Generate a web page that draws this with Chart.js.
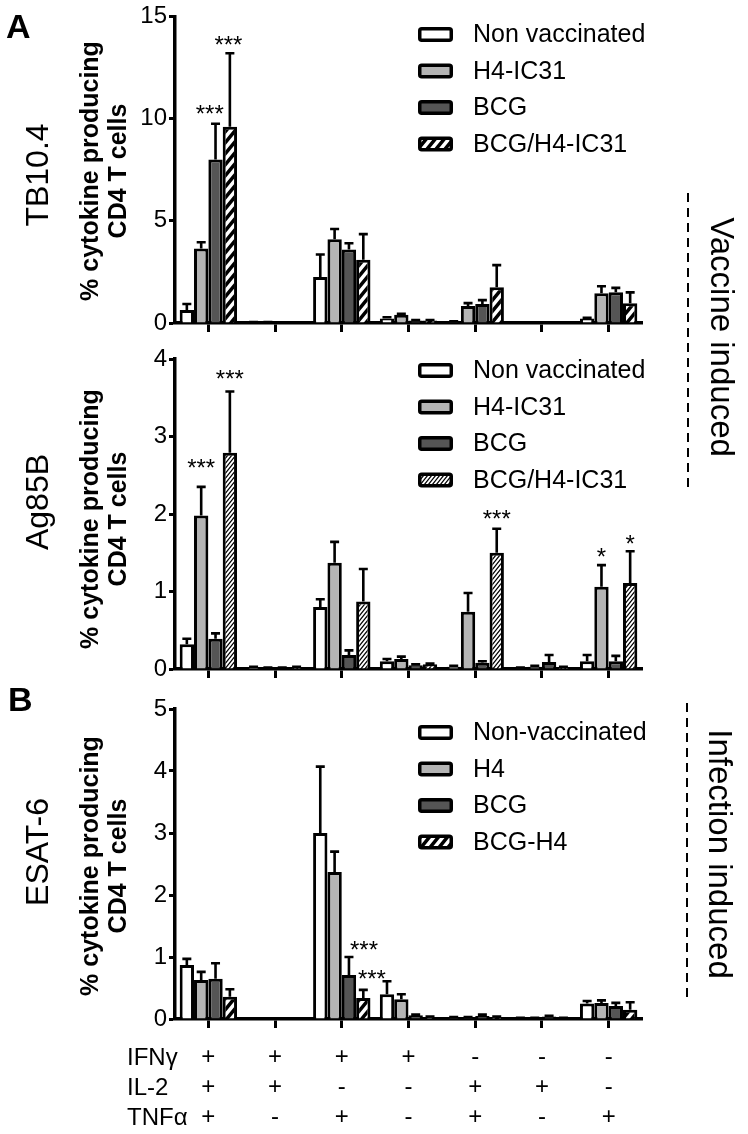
<!DOCTYPE html>
<html>
<head>
<meta charset="utf-8">
<script src="https://cdn.jsdelivr.net/npm/chart.js@4.4.1/dist/chart.umd.min.js"></script>
<style>
  body { margin: 0; background: #fff; font-family: "Liberation Sans", Arial, sans-serif; }
  #page { position: relative; width: 748px; height: 1134px; overflow: hidden; }
  .panel { position: absolute; left: 0; width: 748px; }
  .lbl { position: absolute; white-space: nowrap; color: #000; }
  .rotL { transform: translate(-50%, -50%) rotate(-90deg); text-align: center; }
  .rotR { transform: translate(-50%, -50%) rotate(90deg); }
  .dash { position: absolute; width: 2px;
          background: repeating-linear-gradient(to bottom, #000 0 9px, transparent 9px 15px); }
</style>
</head>
<body>
<div id="page">
  <div class="panel" style="top:0;height:345px"><canvas id="tb104"></canvas></div>
  <div class="panel" style="top:330px;height:361px"><canvas id="ag85b"></canvas></div>
  <div class="panel" style="top:680px;height:454px"><canvas id="esat6"></canvas></div>

  <div class="lbl" style="left:6px;top:7px;font:bold 34px 'Liberation Sans',Arial">A</div>
  <div class="lbl" style="left:8px;top:680px;font:bold 34px 'Liberation Sans',Arial">B</div>

  <div class="lbl rotL" style="left:37px;top:175px;font-size:32px">TB10.4</div>
  <div class="lbl rotL" style="left:37px;top:502px;font-size:32px">Ag85B</div>
  <div class="lbl rotL" style="left:37px;top:852px;font-size:32px">ESAT-6</div>

  <div class="lbl rotL" style="left:103px;top:171px;font:bold 25px/28px 'Liberation Sans',Arial">% cytokine producing<br>CD4 T cells</div>
  <div class="lbl rotL" style="left:103px;top:519px;font:bold 25px/28px 'Liberation Sans',Arial">% cytokine producing<br>CD4 T cells</div>
  <div class="lbl rotL" style="left:103px;top:866px;font:bold 25px/28px 'Liberation Sans',Arial">% cytokine producing<br>CD4 T cells</div>

  <div class="dash" style="left:687px;top:193px;height:298px"></div>
  <div class="lbl rotR" style="left:722px;top:337px;font-size:33px">Vaccine induced</div>
  <div class="dash" style="left:686px;top:703px;height:296px"></div>
  <div class="lbl rotR" style="left:720px;top:854px;font-size:33px">Infection induced</div>

  <div class="lbl" style="left:127px;top:1042px;font-size:24px;line-height:30px">IFNγ<br>IL-2<br>TNFα</div>
</div>

<script>
// cytokine combinations (x categories)
const ifng = ['+', '+', '+', '+', '-', '-', '-'];
const il2  = ['+', '+', '-', '-', '+', '+', '-'];
const tnfa = ['+', '-', '+', '-', '+', '-', '+'];
const combos = ifng.map((v, i) => [v, il2[i], tnfa[i]]);

// TB10.4 (mean, mean + SEM)
const tbNonVac    = [0.63, 0.03, 2.25, 0.22, 0.05, 0.02, 0.22];
const tbNonVacErr = [0.93, 0.05, 3.35, 0.28, 0.08, 0.03, 0.26];
const tbH4        = [3.65, 0.03, 4.10, 0.40, 0.83, 0.02, 1.45];
const tbH4Err     = [3.95, 0.05, 4.60, 0.45, 0.97, 0.03, 1.80];
const tbBcg       = [8.00, 0.02, 3.60, 0.12, 0.93, 0.03, 1.50];
const tbBcgErr    = [9.75, 0.03, 3.90, 0.14, 1.12, 0.04, 1.72];
const tbBoth      = [9.60, 0.02, 3.10, 0.12, 1.75, 0.01, 0.97];
const tbBothErr   = [13.2, 0.03, 4.35, 0.15, 2.83, 0.02, 1.50];
const tbStars = [
  { g: 0, s: 1.6, v: 10.5, t: '***' },
  { g: 0, s: 2.9, v: 13.9, t: '***' }
];

// Ag85B
const agNonVac    = [0.32, 0.02, 0.80, 0.10, 0.03, 0.01, 0.10];
const agNonVacErr = [0.39, 0.03, 0.90, 0.13, 0.04, 0.02, 0.18];
const agH4        = [1.98, 0.01, 1.37, 0.13, 0.74, 0.03, 1.06];
const agH4Err     = [2.35, 0.02, 1.64, 0.16, 0.98, 0.04, 1.34];
const agBcg       = [0.39, 0.01, 0.18, 0.05, 0.08, 0.09, 0.10];
const agBcgErr    = [0.46, 0.02, 0.24, 0.06, 0.10, 0.18, 0.17];
const agBoth      = [2.79, 0.02, 0.87, 0.06, 1.50, 0.02, 1.11];
const agBothErr   = [3.58, 0.03, 1.29, 0.07, 1.81, 0.03, 1.52];
const agStars = [
  { g: 0, s: 1, v: 2.67, t: '***' },
  { g: 0, s: 3, v: 3.82, t: '***' },
  { g: 4, s: 3, v: 2.01, t: '***' },
  { g: 6, s: 1, v: 1.52, t: '*' },
  { g: 6, s: 3, v: 1.68, t: '*' }
];

// ESAT-6
const esNonVac    = [0.87, 0, 3.00, 0.40, 0.02, 0.01, 0.25];
const esNonVacErr = [0.97, 0, 4.07, 0.61, 0.03, 0.02, 0.29];
const esH4        = [0.63, 0, 2.37, 0.32, 0.02, 0.01, 0.26];
const esH4Err     = [0.76, 0, 2.70, 0.40, 0.03, 0.02, 0.30];
const esBcg       = [0.65, 0, 0.71, 0.06, 0.05, 0.04, 0.21];
const esBcgErr    = [0.90, 0, 1.00, 0.07, 0.07, 0.05, 0.26];
const esBoth      = [0.36, 0, 0.34, 0.03, 0.03, 0.01, 0.15];
const esBothErr   = [0.48, 0, 0.47, 0.04, 0.04, 0.02, 0.27];
const esStars = [
  { g: 2, s: 3.05, v: 1.21, t: '***' },
  { g: 2, s: 3.6, v: 0.74, t: '***' }
];

const namesA = ['Non vaccinated', 'H4-IC31', 'BCG', 'BCG/H4-IC31'];
const namesC = ['Non-vaccinated', 'H4', 'BCG', 'BCG-H4'];

const FONT = '"Liberation Sans", Arial, sans-serif';
Chart.defaults.font.family = FONT;
Chart.defaults.color = '#000';

function stripes(w, h, lw) {
  const c = document.createElement('canvas');
  c.width = w; c.height = h;
  const g = c.getContext('2d');
  g.fillStyle = '#fff';
  g.fillRect(0, 0, w, h);
  g.strokeStyle = '#000';
  g.lineWidth = lw;
  g.beginPath();
  for (const k of [-1, 0, 1]) {
    g.moveTo(k * w - w * 0.5, h * 1.5);
    g.lineTo(k * w + w * 1.5, -h * 0.5);
  }
  g.stroke();
  return g.createPattern(c, 'repeat');
}

const errorBars = {
  id: 'errorBars',
  afterDatasetsDraw(chart) {
    const ctx = chart.ctx, y = chart.scales.y;
    chart.data.datasets.forEach((ds, i) => {
      chart.getDatasetMeta(i).data.forEach((bar, j) => {
        const top = ds.errTop[j];
        if (top == null || top <= ds.data[j]) return;
        const yp = y.getPixelForValue(top);
        ctx.save();
        ctx.strokeStyle = '#000';
        ctx.lineWidth = 2.6;
        ctx.beginPath();
        ctx.moveTo(bar.x, bar.y);
        ctx.lineTo(bar.x, yp);
        ctx.moveTo(bar.x - 4.5, yp);
        ctx.lineTo(bar.x + 4.5, yp);
        ctx.stroke();
        ctx.restore();
      });
    });
  }
};

const stars = {
  id: 'stars',
  afterDatasetsDraw(chart, args, opts) {
    const ctx = chart.ctx;
    const m0 = chart.getDatasetMeta(0).data, m1 = chart.getDatasetMeta(1).data;
    ctx.save();
    ctx.font = '24px ' + FONT;
    ctx.fillStyle = '#000';
    ctx.textAlign = 'center';
    ctx.textBaseline = 'alphabetic';
    (opts.marks || []).forEach(mk => {
      const dx = m1[mk.g].x - m0[mk.g].x;
      const x = m0[mk.g].x + mk.s * dx;
      const yp = chart.scales.y.getPixelForValue(mk.v);
      ctx.fillText(mk.t, x, yp + 0.57 * 24);
    });
    ctx.restore();
  }
};

const boxLegend = {
  id: 'boxLegend',
  afterDraw(chart, args, o) {
    const ctx = chart.ctx;
    chart.data.datasets.forEach((ds, i) => {
      const cy = o.y + i * o.gap;
      ctx.save();
      ctx.beginPath();
      ctx.roundRect(o.x + 1.75, cy - 7.5 + 1.75, 35 - 3.5, 15 - 3.5, 2);
      ctx.fillStyle = ds.backgroundColor;
      ctx.fill();
      ctx.lineWidth = 3.5;
      ctx.strokeStyle = '#000';
      ctx.stroke();
      ctx.fillStyle = '#000';
      ctx.font = '25px ' + FONT;
      ctx.textBaseline = 'middle';
      ctx.fillText(ds.label, o.x + 55, cy + 1);
      ctx.restore();
    });
  }
};

function makeChart(id, cfg) {
  const fills = ['#ffffff', '#b4b4b4', '#555555', cfg.hatch];
  return new Chart(document.getElementById(id), {
    type: 'bar',
    data: {
      labels: cfg.labels,
      datasets: cfg.series.map((s, i) => ({
        label: cfg.names[i],
        data: s[0],
        errTop: s[1],
        backgroundColor: fills[i],
        borderColor: '#000',
        borderWidth: 3,
        categoryPercentage: 0.86,
        barPercentage: 1.0
      }))
    },
    options: {
      responsive: true,
      maintainAspectRatio: false,
      animation: false,
      layout: { padding: { left: 135, right: 106, top: cfg.padTop, bottom: 0 } },
      plugins: {
        legend: { display: false },
        tooltip: { enabled: false },
        stars: { marks: cfg.stars },
        boxLegend: { x: 418, y: cfg.legendY, gap: 36.5 }
      },
      scales: {
        x: {
          z: 1,
          offset: true,
          grid: { offset: false, drawOnChartArea: false, tickLength: 9, tickWidth: 3, tickColor: '#000' },
          border: { color: '#000', width: 3.5 },
          ticks: {
            display: cfg.showTicks, color: '#000', autoSkip: false, maxRotation: 0,
            padding: 14, font: { size: 24, lineHeight: 1.25 }
          },
          afterFit(s) { s.height = cfg.xh; }
        },
        y: {
          z: 1,
          min: 0,
          max: cfg.max,
          ticks: { stepSize: cfg.step, color: '#000', padding: 2, font: { size: 24 } },
          grid: { drawOnChartArea: false, tickLength: 6, tickWidth: 3, tickColor: '#000' },
          border: { color: '#000', width: 3.5 },
          afterFit(s) { s.width = 40; }
        }
      }
    },
    plugins: [errorBars, stars, boxLegend]
  });
}

makeChart('tb104', {
  labels: combos, names: namesA, hatch: stripes(9, 11, 3.5),
  series: [[tbNonVac, tbNonVacErr], [tbH4, tbH4Err], [tbBcg, tbBcgErr], [tbBoth, tbBothErr]],
  stars: tbStars, max: 15, step: 5, padTop: 15, xh: 22, showTicks: false, legendY: 34.5
});

makeChart('ag85b', {
  labels: combos, names: namesA, hatch: stripes(4, 5, 1.2),
  series: [[agNonVac, agNonVacErr], [agH4, agH4Err], [agBcg, agBcgErr], [agBoth, agBothErr]],
  stars: agStars, max: 4, step: 1, padTop: 29, xh: 22, showTicks: false, legendY: 40.5
});

makeChart('esat6', {
  labels: combos, names: namesC, hatch: stripes(9, 11, 3.5),
  series: [[esNonVac, esNonVacErr], [esH4, esH4Err], [esBcg, esBcgErr], [esBoth, esBothErr]],
  stars: esStars, max: 5, step: 1, padTop: 29, xh: 115, showTicks: true, legendY: 52.5
});
</script>
</body>
</html>
